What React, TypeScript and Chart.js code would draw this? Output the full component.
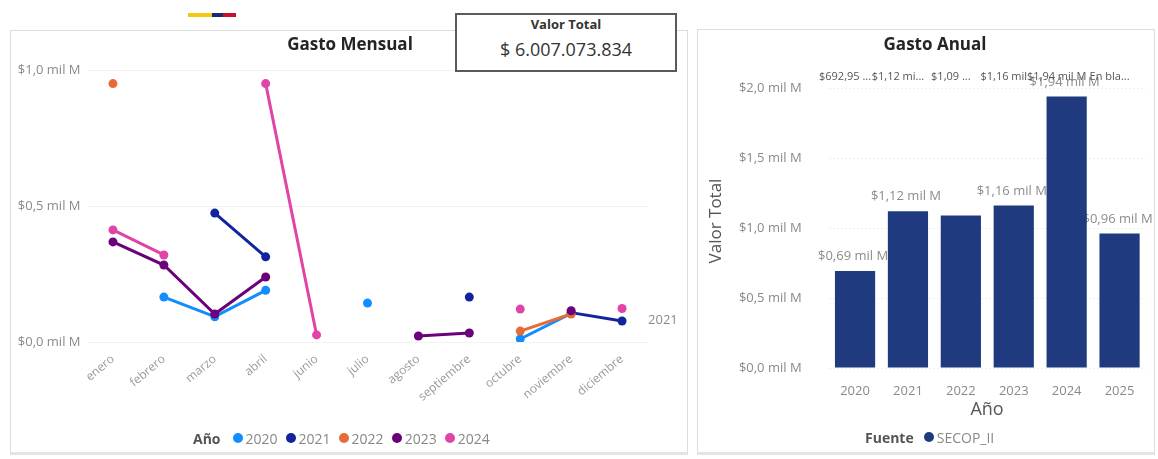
import React, { useEffect, useRef } from 'react';
import { Chart, registerables } from 'chart.js';

Chart.register(...registerables);

const FONT = "'Open Sans', 'Noto Sans', sans-serif";

// ---- Gasto Mensual (values in mil millones) ----
const months = ['enero', 'febrero', 'marzo', 'abril', 'junio', 'julio', 'agosto', 'septiembre', 'octubre', 'noviembre', 'diciembre'];
const seriesYears = ['2020', '2021', '2022', '2023', '2024'];
const seriesColors = ['#118DFF', '#12239E', '#E66C37', '#6B007B', '#E044A7'];
const v2020 = [null, 0.165, 0.093, 0.19, null, 0.143, null, null, 0.011, 0.105, null];
const v2021 = [null, null, 0.474, 0.313, null, null, null, 0.165, null, 0.108, 0.077];
const v2022 = [0.95, null, null, null, null, null, null, null, 0.04, 0.103, null];
const v2023 = [0.368, 0.283, 0.103, 0.239, null, null, 0.022, 0.033, null, 0.115, null];
const v2024 = [0.412, 0.32, null, 0.95, 0.026, null, null, null, 0.121, null, 0.123];
const monthlySeries = [v2020, v2021, v2022, v2023, v2024];
const monthlyMax = 1.0;
const monthlyStep = 0.5;
const endLabelSeries = '2021';

// ---- Gasto Anual ----
const years = ['2020', '2021', '2022', '2023', '2024', '2025'];
const annual = [0.69295, 1.12, 1.09, 1.16, 1.94, 0.96];
const annualLabels = ['$0,69 mil M', '$1,12 mil M', '', '$1,16 mil M', '$1,94 mil M', '$0,96 mil M'];
const annualTopLabels = ['$692,95 ...', '$1,12 mi...', '$1,09 ...', '$1,16 mil', '$1,94 mil M', 'En bla...'];
const annualMax = 2.0;
const annualStep = 0.5;
const barColor = '#1F3A7E';
const fuente = 'SECOP_II';
const totalValue = '$ 6.007.073.834';

const fmt = (v: number) => '$' + v.toFixed(1).replace('.', ',') + ' mil M';

function MonthlyChart() {
  const ref = useRef<HTMLCanvasElement | null>(null);
  useEffect(() => {
    if (!ref.current) return;
    const endLabel = {
      id: 'endLabel',
      afterDatasetsDraw(chart: any) {
        const idx = seriesYears.indexOf(endLabelSeries);
        const meta = chart.getDatasetMeta(idx);
        const data = monthlySeries[idx];
        let last = -1;
        data.forEach((v, i) => { if (v !== null) last = i; });
        if (last < 0) return;
        const pt = meta.data[last];
        const ctx = chart.ctx;
        ctx.save();
        ctx.font = `13px ${FONT}`;
        ctx.fillStyle = '#8a8a8a';
        ctx.textAlign = 'left';
        ctx.textBaseline = 'middle';
        ctx.fillText(endLabelSeries, pt.x + 26, pt.y - 1);
        ctx.restore();
      },
    };
    const chart = new Chart(ref.current, {
      type: 'line',
      data: {
        labels: months,
        datasets: monthlySeries.map((d, i) => ({
          label: seriesYears[i],
          data: d,
          borderColor: seriesColors[i],
          backgroundColor: seriesColors[i],
          pointBackgroundColor: seriesColors[i],
          pointBorderColor: seriesColors[i],
          pointRadius: 4.5,
          pointBorderWidth: 0,
          borderWidth: 3,
          spanGaps: false,
          tension: 0,
          order: seriesYears.length - i,
        })),
      },
      options: {
        responsive: false,
        animation: false,
        layout: { padding: { left: 8, right: 40.5, top: 40, bottom: 0 } },
        plugins: { legend: { display: false }, tooltip: { enabled: false }, title: { display: false } },
        scales: {
          x: {
            type: 'category',
            offset: true,
            grid: { display: false },
            border: { display: false },
            ticks: { color: '#9a9a9a', font: { family: FONT, size: 12 }, maxRotation: 40, minRotation: 40, padding: 2 },
            afterFit: (s: any) => { s.height = 113; },
          },
          y: {
            min: 0,
            max: monthlyMax,
            grid: { color: '#f2f2f2', drawTicks: false },
            border: { display: false },
            ticks: { stepSize: monthlyStep, color: '#8a8a8a', font: { family: FONT, size: 13 }, padding: 7, callback: (v: any) => fmt(Number(v)) },
            afterFit: (s: any) => { s.width = 69.5; },
          },
        },
      },
      plugins: [endLabel],
    });
    return () => chart.destroy();
  }, []);
  return <canvas ref={ref} width={678} height={425} style={{ position: 'absolute', left: 10, top: 30 }} />;
}

function AnnualChart() {
  const ref = useRef<HTMLCanvasElement | null>(null);
  useEffect(() => {
    if (!ref.current) return;
    const barLabels = {
      id: 'barLabels',
      beforeDatasetsDraw(chart: any) {
        const ctx = chart.ctx;
        const meta = chart.getDatasetMeta(0);
        ctx.save();
        ctx.font = `13px ${FONT}`;
        ctx.fillStyle = '#8c8c8c';
        ctx.textAlign = 'center';
        ctx.textBaseline = 'bottom';
        meta.data.forEach((bar: any, i: number) => {
          const t = annualLabels[i];
          if (t) ctx.fillText(t, bar.x - 2, bar.y - 8);
        });
        ctx.restore();
      },
      afterDatasetsDraw(chart: any) {
        const ctx = chart.ctx;
        const meta = chart.getDatasetMeta(0);
        ctx.save();
        ctx.font = `11px ${FONT}`;
        ctx.fillStyle = '#555555';
        ctx.textAlign = 'center';
        ctx.textBaseline = 'middle';
        meta.data.forEach((bar: any, i: number) => {
          ctx.fillText(annualTopLabels[i], bar.x - 10, chart.chartArea.top - 11);
        });
        ctx.restore();
      },
    };
    const chart = new Chart(ref.current, {
      type: 'bar',
      data: {
        labels: years,
        datasets: [{
          label: fuente,
          data: annual,
          backgroundColor: barColor,
          borderWidth: 0,
          categoryPercentage: 0.76,
          barPercentage: 1.0,
        }],
      },
      options: {
        responsive: false,
        animation: false,
        layout: { padding: { left: 38, right: 9, top: 58, bottom: 0 } },
        plugins: { legend: { display: false }, tooltip: { enabled: false }, title: { display: false } },
        scales: {
          x: {
            grid: { display: false },
            border: { display: false },
            ticks: { color: '#8a8a8a', font: { family: FONT, size: 13 }, padding: 7, maxRotation: 0 },
            afterFit: (s: any) => { s.height = 87; },
          },
          y: {
            min: 0,
            max: annualMax,
            grid: { color: '#eeeeee', drawTicks: false },
            border: { display: false, dash: [2, 2] },
            ticks: { stepSize: annualStep, color: '#8a8a8a', font: { family: FONT, size: 13 }, padding: 27, callback: (v: any) => fmt(Number(v)) },
            afterFit: (s: any) => { s.width = 93.6; },
          },
        },
      },
      plugins: [barLabels],
    });
    return () => chart.destroy();
  }, []);
  return <canvas ref={ref} width={458} height={425} style={{ position: 'absolute', left: 697, top: 30 }} />;
}

const dot = (c: string) => (
  <span style={{ display: 'inline-block', width: 10, height: 10, borderRadius: 5, background: c, marginRight: 3 }} />
);

export default function App() {
  return (
    <div style={{ position: 'absolute', left: 0, top: 0, width: 1158, height: 459, background: '#fff', overflow: 'hidden', fontFamily: FONT }}>
      {/* flag bar */}
      <div style={{ position: 'absolute', left: 188, top: 13, width: 24, height: 4, background: '#F2C811' }} />
      <div style={{ position: 'absolute', left: 212, top: 13, width: 11, height: 4, background: '#1B2A6B' }} />
      <div style={{ position: 'absolute', left: 223, top: 13, width: 13, height: 4, background: '#C8102E' }} />

      {/* cards */}
      <div style={{ position: 'absolute', left: 10, top: 30, width: 678, height: 425, border: '1px solid #dcdcdc', borderBottom: '3px solid #e4e4e4', boxSizing: 'border-box' }} />
      <div style={{ position: 'absolute', left: 697, top: 29, width: 458, height: 426, border: '1px solid #dcdcdc', borderBottom: '3px solid #e4e4e4', boxSizing: 'border-box' }} />

      <MonthlyChart />
      <AnnualChart />

      {/* titles */}
      <div style={{ position: 'absolute', left: 250, top: 32, width: 200, textAlign: 'center', fontWeight: 700, fontSize: 17, color: '#252423' }}>Gasto Mensual</div>
      <div style={{ position: 'absolute', left: 835, top: 32, width: 200, textAlign: 'center', fontWeight: 700, fontSize: 17, color: '#252423' }}>Gasto Anual</div>

      {/* Valor Total card */}
      <div style={{ position: 'absolute', left: 455, top: 13, width: 222, height: 59, border: '2px solid #5a5a5a', boxSizing: 'border-box', background: '#fff' }}>
        <div style={{ position: 'absolute', left: 0, right: 0, top: 0, textAlign: 'center', fontWeight: 700, fontSize: 13, color: '#333' }}>Valor Total</div>
        <div style={{ position: 'absolute', left: 0, right: 0, top: 22, textAlign: 'center', fontSize: 18, color: '#333' }}>{totalValue}</div>
      </div>

      {/* axis titles annual */}
      <div style={{ position: 'absolute', left: 665, top: 210, width: 100, height: 22, lineHeight: '22px', textAlign: 'center', fontSize: 17, color: '#555', transform: 'rotate(-90deg)' }}>Valor Total</div>
      <div style={{ position: 'absolute', left: 937, top: 396, width: 100, textAlign: 'center', fontSize: 18, color: '#555' }}>Año</div>

      {/* legends */}
      <div style={{ position: 'absolute', left: 193, top: 428, height: 20, display: 'flex', alignItems: 'center', fontSize: 14, color: '#888', whiteSpace: 'nowrap' }}>
        <span style={{ fontWeight: 700, color: '#555', marginRight: 12 }}>Año</span>
        {seriesYears.map((y, i) => (
          <span key={y} style={{ display: 'flex', alignItems: 'center', marginRight: 8 }}>{dot(seriesColors[i])}{y}</span>
        ))}
      </div>
      <div style={{ position: 'absolute', left: 865, top: 427, height: 20, display: 'flex', alignItems: 'center', fontSize: 14, color: '#888', whiteSpace: 'nowrap' }}>
        <span style={{ fontWeight: 700, color: '#555', marginRight: 10 }}>Fuente</span>
        {dot(barColor)}{fuente}
      </div>
    </div>
  );
}
